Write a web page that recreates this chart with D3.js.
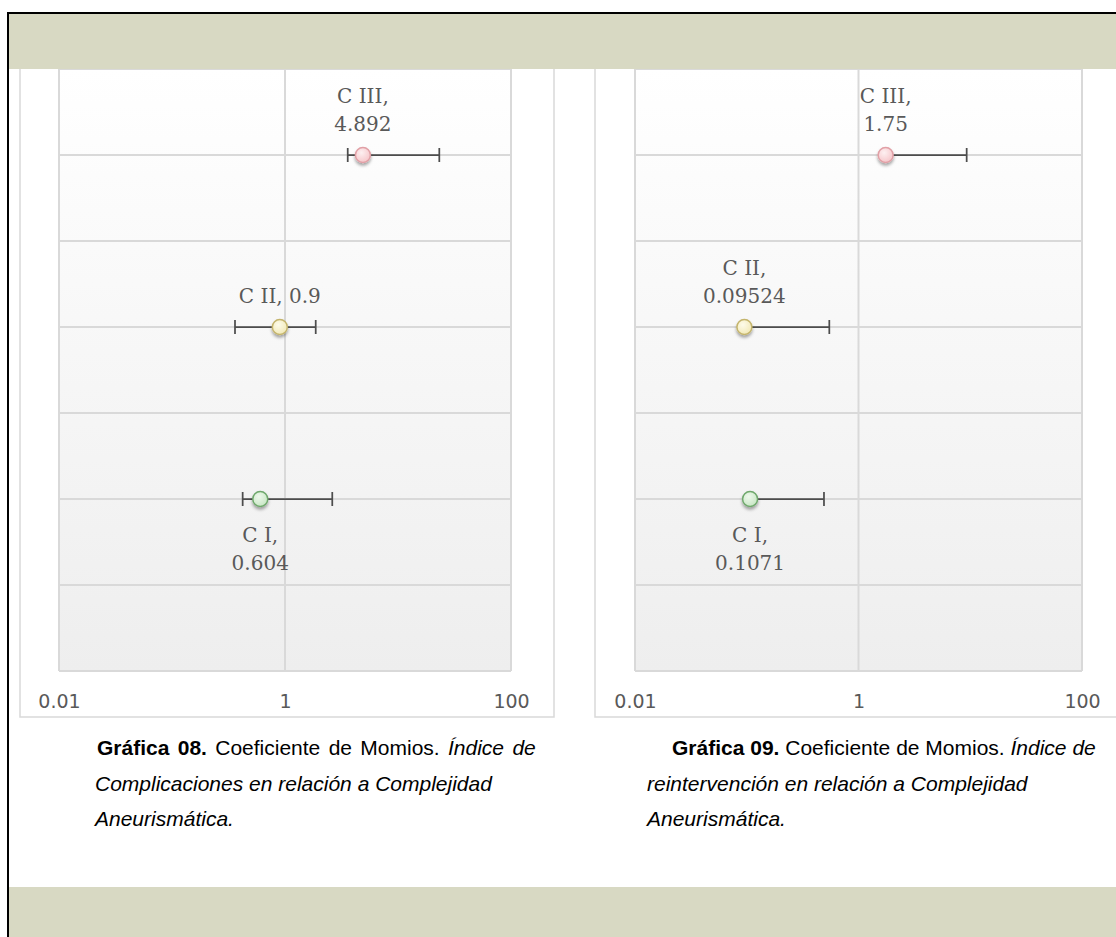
<!DOCTYPE html>
<html>
<head>
<meta charset="utf-8">
<script src="https://cdn.jsdelivr.net/npm/d3@7"></script>
<style>
  html, body { margin: 0; padding: 0; background: #ffffff; }
  svg { display: block; }
</style>
</head>
<body>
<svg id="page" width="1116" height="937"></svg>
<script>
// Odds ratios (Coeficiente de Momios) by aneurysm complexity class
const categories = ["C I", "C II", "C III"];
const rowValues = [2, 4, 6];            // vertical slot of each class on the 0..7 axis
const pointColors = ["green", "yellow", "pink"];

// Gráfica 08 – complications
const or08 = [0.604, 0.9, 4.892];
const low08 = [0.422, 0.361, 3.59];
const high08 = [2.62, 1.87, 23.2];

// Gráfica 09 – re-intervention (only the upper bar is drawn)
const or09 = [0.1071, 0.09524, 1.75];
const low09 = [null, null, null];
const high09 = [0.491, 0.548, 9.29];

const xTicks = [0.01, 1, 100];
const xTickLabels = ["0.01", "1", "100"];

const captions = [
  [
    [{t: "Gráfica 08.", w: "bold"}, {t: " Coeficiente de Momios. "}, {t: "Índice de", i: true}],
    [{t: "Complicaciones en relación a Complejidad", i: true}],
    [{t: "Aneurismática.", i: true}]
  ],
  [
    [{t: "Gráfica 09.", w: "bold"}, {t: " Coeficiente de Momios. "}, {t: "Índice de", i: true}],
    [{t: "reintervención en relación a Complejidad", i: true}],
    [{t: "Aneurismática.", i: true}]
  ]
];

const svg = d3.select("#page");
const defs = svg.append("defs");

// background gradient of the plot area
const bg = defs.append("linearGradient").attr("id", "plotBg")
  .attr("x1", 0).attr("y1", 0).attr("x2", 0).attr("y2", 1);
bg.append("stop").attr("offset", "0%").attr("stop-color", "#ffffff");
bg.append("stop").attr("offset", "100%").attr("stop-color", "#eeeeee");

// marker styles
const markerStyle = {
  green:  {light: "#eef8ec", dark: "#c6e6c2", stroke: "#6fa86c"},
  yellow: {light: "#fdfbea", dark: "#f1e8b4", stroke: "#c4b46c"},
  pink:   {light: "#fdf0f1", dark: "#f6c4c8", stroke: "#e1a0a6"}
};
Object.entries(markerStyle).forEach(([k, s]) => {
  const g = defs.append("radialGradient").attr("id", "mk-" + k)
    .attr("cx", "40%").attr("cy", "35%").attr("r", "70%");
  g.append("stop").attr("offset", "0%").attr("stop-color", s.light);
  g.append("stop").attr("offset", "100%").attr("stop-color", s.dark);
});
const sh = defs.append("filter").attr("id", "shadow")
  .attr("x", "-60%").attr("y", "-60%").attr("width", "220%").attr("height", "240%");
sh.append("feDropShadow").attr("dx", 0).attr("dy", 2.5).attr("stdDeviation", 1.6)
  .attr("flood-color", "#000").attr("flood-opacity", 0.35);

const gridColor = "#d9d9d9";
const textColor = "#595959";

function drawChart(cfg) {
  const g = svg.append("g");

  // outer chart frame
  g.append("rect")
    .attr("x", cfg.frame[0]).attr("y", 40)
    .attr("width", cfg.frame[1] - cfg.frame[0]).attr("height", 717 - 40)
    .attr("fill", "#ffffff").attr("stroke", gridColor).attr("stroke-width", 1.5);

  const x = d3.scaleLog().domain([0.01, 100]).range([cfg.plot[0], cfg.plot[1]]);
  const y = d3.scaleLinear().domain([0, 7]).range([671, 69]);

  g.append("rect")
    .attr("x", x(0.01)).attr("y", y(7))
    .attr("width", x(100) - x(0.01)).attr("height", y(0) - y(7))
    .attr("fill", "url(#plotBg)");

  // horizontal gridlines
  g.append("g").selectAll("line").data(d3.range(0, 8)).join("line")
    .attr("x1", x(0.01)).attr("x2", x(100))
    .attr("y1", d => y(d)).attr("y2", d => y(d))
    .attr("stroke", gridColor).attr("stroke-width", 2);

  // vertical gridlines at the major ticks
  g.append("g").selectAll("line").data(xTicks).join("line")
    .attr("x1", d => x(d)).attr("x2", d => x(d))
    .attr("y1", y(7)).attr("y2", y(0))
    .attr("stroke", gridColor).attr("stroke-width", 2);

  // x axis labels
  const axis = d3.axisBottom(x).tickValues(xTicks)
    .tickFormat((d, i) => xTickLabels[i]).tickSize(0).tickPadding(0);
  const ax = g.append("g").attr("transform", `translate(0,${y(0)})`).call(axis);
  ax.select(".domain").remove();
  ax.selectAll("text")
    .attr("dy", null).attr("y", 37)
    .attr("fill", textColor)
    .style("font-family", "'DejaVu Sans', sans-serif")
    .style("font-size", "19px");

  const rows = categories.map((c, i) => ({
    name: c, v: cfg.vals[i], lo: cfg.low[i], hi: cfg.high[i],
    row: rowValues[i], color: pointColors[i], below: i === 0
  }));

  // error bars
  const eb = g.append("g").attr("stroke", "#4d4d4d").attr("stroke-width", 1.75);
  rows.forEach(d => {
    const lo = d.lo == null ? d.v : d.lo;
    const cy = y(d.row);
    eb.append("line").attr("x1", x(lo)).attr("x2", x(d.hi)).attr("y1", cy).attr("y2", cy);
    eb.append("line").attr("x1", x(d.hi)).attr("x2", x(d.hi)).attr("y1", cy - 7).attr("y2", cy + 7);
    if (d.lo != null) {
      eb.append("line").attr("x1", x(d.lo)).attr("x2", x(d.lo)).attr("y1", cy - 7).attr("y2", cy + 7);
    }
  });

  // points
  g.append("g").selectAll("circle").data(rows).join("circle")
    .attr("cx", d => x(d.v)).attr("cy", d => y(d.row)).attr("r", 7.5)
    .attr("fill", d => `url(#mk-${d.color})`)
    .attr("stroke", d => markerStyle[d.color].stroke).attr("stroke-width", 1.5)
    .attr("filter", "url(#shadow)");

  // data labels
  rows.forEach(d => {
    const full = `${d.name}, ${d.v}`;
    const lines = full.length > 9 ? [d.name + ",", String(d.v)] : [full];
    const cx = x(d.v), cy = y(d.row);
    const t = g.append("text")
      .attr("text-anchor", "middle")
      .attr("fill", textColor)
      .style("font-family", "'DejaVu Serif', serif")
      .style("font-size", "20px");
    lines.forEach((ln, k) => {
      let by;
      if (d.below) by = cy + 43 + k * 28;
      else by = cy - 24 - (lines.length - 1 - k) * 28;
      t.append("tspan").attr("x", cx).attr("y", by).text(ln);
    });
  });

  // caption
  const cap = svg.append("g")
    .style("font-family", "'Liberation Sans', Arial, sans-serif")
    .style("font-size", "21px").attr("fill", "#000000");
  cfg.caption.forEach((line, li) => {
    const t = cap.append("text")
      .attr("x", li === 0 ? cfg.capX[0] : cfg.capX[1])
      .attr("y", [755, 791, 826][li])
      .style("word-spacing", li === 0 ? cfg.firstLineSpacing + "px" : "0px");
    line.forEach(seg => {
      t.append("tspan").text(seg.t)
        .style("font-weight", seg.w || "normal")
        .style("font-style", seg.i ? "italic" : "normal")
        .attr("xml:space", "preserve");
    });
  });
}

drawChart({frame: [20, 554], plot: [59, 511], vals: or08, low: low08, high: high08,
           caption: captions[0], capX: [97, 95], firstLineSpacing: 2.5});
drawChart({frame: [595, 1140], plot: [635, 1082], vals: or09, low: low09, high: high09,
           caption: captions[1], capX: [672, 647], firstLineSpacing: 0});

// page frame and header / footer bands
svg.append("rect").attr("x", 9).attr("y", 14).attr("width", 1107).attr("height", 55).attr("fill", "#d8d9c3");
svg.append("rect").attr("x", 9).attr("y", 887).attr("width", 1107).attr("height", 50).attr("fill", "#d8d9c3");
svg.append("line").attr("x1", 7).attr("x2", 1116).attr("y1", 13).attr("y2", 13)
  .attr("stroke", "#000").attr("stroke-width", 2);
svg.append("line").attr("x1", 8).attr("x2", 8).attr("y1", 12).attr("y2", 937)
  .attr("stroke", "#000").attr("stroke-width", 2);
</script>
</body>
</html>
